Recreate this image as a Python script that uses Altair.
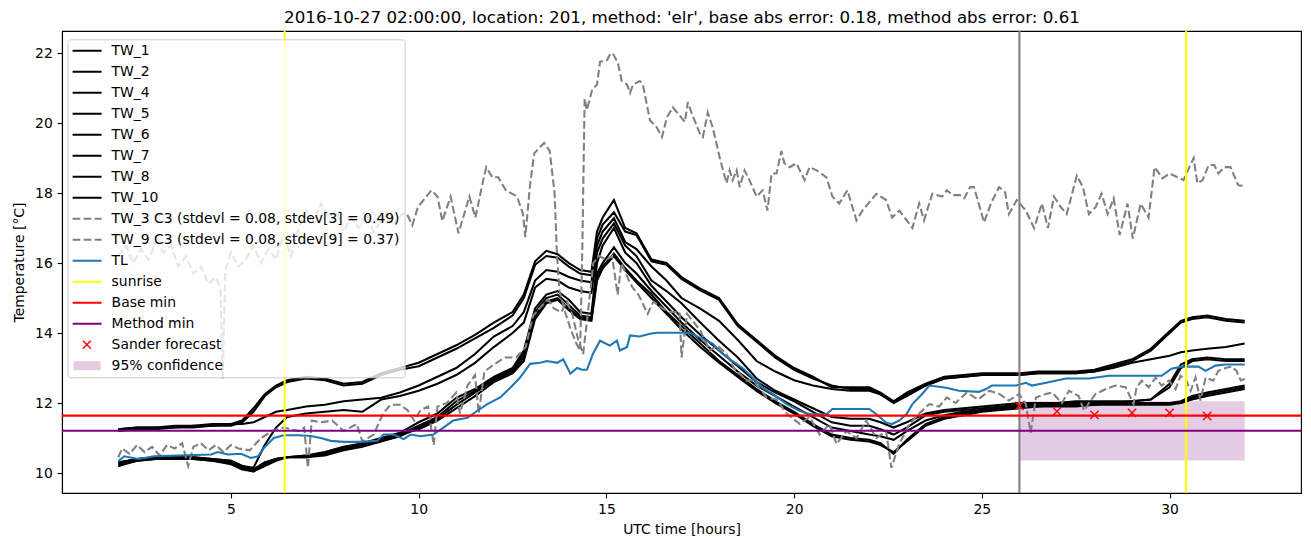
import altair as alt
import pandas as pd

TITLE = "2016-10-27 02:00:00, location: 201, method: 'elr', base abs error: 0.18, method abs error: 0.61"
TW3_LABEL = "TW_3 C3 (stdevl = 0.08, stdev[3] = 0.49)"
TW9_LABEL = "TW_9 C3 (stdevl = 0.08, stdev[9] = 0.37)"

# common time grid of the black TW lines (UTC hours)
XB = [2.0, 2.5, 3.0, 3.5, 4.0, 4.5, 5.0, 5.3, 5.6, 5.9,
      6.2, 6.5, 7.0, 7.5, 8.0, 8.5, 9.0, 9.5, 10.0, 10.5,
      11.0, 11.5, 12.0, 12.5, 12.8, 13.1, 13.4, 13.7, 14.0, 14.3,
      14.6, 14.75, 14.9, 15.2, 15.5, 15.8, 16.2, 16.6, 17.0, 17.5,
      18.0, 18.5, 19.0, 19.5, 20.0, 20.5, 21.0, 21.5, 22.0, 22.3,
      22.65, 23.0, 23.5, 24.0, 24.5, 25.0, 25.5, 26.0, 26.5, 27.0,
      27.5, 28.0, 28.5, 29.0, 29.5, 30.0, 30.3, 30.6, 31.0, 31.5,
      32.0]

TW_1 = [11.25, 11.3, 11.3, 11.35, 11.35, 11.4, 11.4, 11.5, 11.85, 12.25,
        12.5, 12.65, 12.75, 12.7, 12.55, 12.6, 12.85, 13.0, 13.15, 13.4,
        13.65, 13.95, 14.3, 14.6, 15.1, 16.05, 16.35, 16.25, 16.0, 15.8,
        15.75, 16.9, 17.3, 17.8, 17.0, 16.85, 16.1, 16.0, 15.6, 15.27,
        15.0, 14.25, 13.8, 13.35, 13.0, 12.75, 12.45, 12.45, 12.45, 12.3,
        12.05, 12.3, 12.55, 12.75, 12.8, 12.85, 12.85, 12.85, 12.9, 12.9,
        12.9, 12.95, 13.1, 13.25, 13.55, 14.05, 14.35, 14.45, 14.5, 14.4,
        14.35]
TW_2 = [11.2, 11.25, 11.25, 11.3, 11.3, 11.35, 11.35, 11.45, 11.75, 12.2,
        12.45, 12.6, 12.7, 12.65, 12.5, 12.55, 12.8, 12.95, 13.05, 13.3,
        13.55, 13.85, 14.15, 14.5, 15.0, 15.95, 16.2, 16.15, 15.9, 15.7,
        15.65, 16.7, 17.1, 17.45, 16.9, 16.8, 16.05, 15.95, 15.55, 15.22,
        14.95, 14.2, 13.75, 13.3, 12.95, 12.7, 12.5, 12.4, 12.4, 12.25,
        12.05, 12.25, 12.5, 12.7, 12.75, 12.8, 12.8, 12.8, 12.85, 12.85,
        12.85, 12.9, 13.05, 13.2, 13.5, 14.0, 14.3, 14.4, 14.45, 14.35,
        14.3]
TW_4 = [11.25, 11.3, 11.3, 11.3, 11.35, 11.35, 11.4, 11.4, 11.45, 11.6,
        11.75, 11.8, 11.9, 11.95, 12.05, 12.1, 12.15, 12.3, 12.5, 12.75,
        13.0, 13.4, 13.9, 14.2, 14.6, 15.5, 15.8, 15.75, 15.6, 15.5,
        15.45, 16.5, 16.9, 17.28, 16.6, 16.4, 15.9, 15.5, 15.0, 14.7,
        14.35, 13.8, 13.2, 12.9, 12.65, 12.5, 12.4, 12.35, 12.35, 12.25,
        12.0, 12.2, 12.5, 12.7, 12.75, 12.8, 12.8, 12.8, 12.85, 12.85,
        12.85, 12.9, 13.0, 13.15, 13.25, 13.35, 13.45, 13.5, 13.55, 13.6,
        13.7]
TW_5 = [10.3, 10.4, 10.45, 10.45, 10.45, 10.4, 10.35, 10.2, 10.15, 10.8,
        11.3, 11.6, 11.7, 11.75, 11.8, 11.75, 12.1, 12.2, 12.35, 12.55,
        12.8, 13.15, 13.6, 14.0, 14.3, 15.3, 15.55, 15.5, 15.3, 15.2,
        15.15, 16.3, 16.7, 17.13, 16.5, 16.2, 15.5, 15.2, 14.85, 14.3,
        13.78, 13.3, 12.7, 12.35, 12.1, 11.85, 11.6, 11.55, 11.55, 11.45,
        11.3, 11.45, 11.7, 11.8, 11.85, 11.9, 11.95, 12.0, 12.0, 12.0,
        12.05, 12.05, 12.05, 12.05, 12.1, 12.55, 13.1, 13.25, 13.3, 13.25,
        13.25]
TW_6 = [10.25, 10.35, 10.4, 10.4, 10.4, 10.4, 10.35, 10.2, 10.1, 10.3,
        10.4, 10.45, 10.5, 10.6, 10.75, 10.85, 11.0, 11.15, 11.45, 11.7,
        12.15, 12.4, 12.75, 13.0, 13.5, 14.7, 15.1, 15.2, 14.95, 14.6,
        14.55, 16.0, 16.5, 17.0, 16.3, 16.0, 15.35, 14.9, 14.45, 13.95,
        13.5, 13.05, 12.6, 12.3, 12.05, 11.75, 11.45, 11.35, 11.35, 11.25,
        11.1, 11.3, 11.65, 11.75, 11.8, 11.85, 11.9, 11.95, 11.95, 12.0,
        12.0, 12.0, 12.0, 12.05, 12.1, 12.45, 13.0, 13.2, 13.25, 13.2,
        13.2]
TW_7 = [10.2, 10.4, 10.4, 10.4, 10.4, 10.35, 10.3, 10.15, 10.05, 10.25,
        10.4, 10.45, 10.45, 10.55, 10.7, 10.8, 10.95, 11.1, 11.35, 11.6,
        12.05, 12.35, 12.7, 12.95, 13.4, 14.6, 15.0, 15.1, 14.8, 14.5,
        14.45, 15.7, 16.0, 16.45, 16.0, 15.7, 15.2, 14.75, 14.3, 13.8,
        13.35, 12.9, 12.5, 12.2, 11.9, 11.6, 11.3, 11.2, 11.1, 11.05,
        10.95, 11.2, 11.5, 11.65, 11.75, 11.8, 11.85, 11.9, 11.95, 11.95,
        11.95, 12.0, 12.0, 12.0, 12.0, 12.0, 12.05, 12.2, 12.3, 12.4,
        12.5]
TW_8 = [10.2, 10.35, 10.4, 10.4, 10.4, 10.35, 10.25, 10.1, 10.05, 10.2,
        10.35, 10.45, 10.45, 10.5, 10.65, 10.75, 10.9, 11.05, 11.3, 11.55,
        11.95, 12.3, 12.65, 12.9, 13.3, 14.5, 14.9, 15.0, 14.7, 14.45,
        14.4, 15.6, 15.9, 16.27, 15.85, 15.5, 15.1, 14.6, 14.2, 13.7,
        13.2, 12.8, 12.4, 12.05, 11.75, 11.4, 11.1, 11.0, 10.95, 10.85,
        10.55, 10.95, 11.4, 11.6, 11.7, 11.8, 11.85, 11.9, 11.9, 11.95,
        11.95, 11.95, 12.0, 12.0, 12.0, 12.0, 12.0, 12.15, 12.25, 12.35,
        12.45]
TW_10 = [10.3, 10.4, 10.45, 10.45, 10.45, 10.4, 10.3, 10.2, 10.1, 10.3,
         10.4, 10.45, 10.5, 10.55, 10.7, 10.8, 10.95, 11.1, 11.25, 11.5,
         11.85, 12.2, 12.6, 12.85, 13.2, 14.4, 14.85, 14.95, 14.65, 14.4,
         14.35, 15.5, 15.85, 16.2, 15.8, 15.45, 15.0, 14.55, 14.1, 13.6,
         13.15, 12.75, 12.35, 12.0, 11.7, 11.35, 11.05, 10.95, 10.9, 10.8,
         10.6, 10.9, 11.35, 11.55, 11.65, 11.75, 11.8, 11.85, 11.9, 11.9,
         11.9, 11.95, 11.95, 11.95, 11.95, 11.95, 12.0, 12.1, 12.2, 12.3,
         12.4]

TW3_X = [2.0, 2.2, 2.4, 2.6, 2.8, 3.0, 3.2, 3.4, 3.6, 3.8, 4.0, 4.2, 4.4, 4.6, 4.72, 4.78, 4.85,
         5.0, 5.2, 5.4, 5.6, 5.8, 6.0, 6.2, 6.4, 6.6, 6.8, 7.0, 7.2, 7.4, 7.6, 7.8, 8.0, 8.2,
         8.4, 8.6, 8.8, 9.0, 9.2, 9.4, 9.55, 9.68, 9.83, 9.98, 10.34, 10.5, 10.63, 10.85, 11.06,
         11.35, 11.51, 11.72, 11.8, 11.96, 12.12, 12.32, 12.62, 12.78, 12.84, 12.97, 13.08, 13.34,
         13.49, 13.62, 13.68, 13.75, 13.9, 14.05, 14.2, 14.3, 14.36, 14.42, 14.48, 14.62, 14.75,
         14.83, 15.02, 15.09, 15.17, 15.31, 15.41, 15.55, 15.63, 15.71, 15.89, 15.97, 16.16, 16.34,
         16.48, 16.61, 16.77, 16.9, 17.09, 17.17, 17.27, 17.49, 17.57, 17.7, 17.83, 18.02, 18.2,
         18.28, 18.36, 18.47, 18.55, 18.68, 18.81, 19.0, 19.16, 19.29, 19.4, 19.53, 19.66, 19.74,
         19.88, 20.06, 20.28, 20.41, 20.6, 20.86, 21.02, 21.2, 21.42, 21.66, 21.82, 22.19, 22.45,
         22.61, 22.8, 23.15, 23.33, 23.46, 23.68, 23.94, 24.07, 24.22, 24.42, 24.53, 24.69, 24.79,
         25.06, 25.24, 25.46, 25.62, 25.72, 25.93, 26.17, 26.39, 26.6, 26.76, 26.92, 27.1, 27.26,
         27.53, 27.69, 27.85, 28.03, 28.19, 28.35, 28.51, 28.67, 28.88, 29.02, 29.23, 29.44, 29.6,
         29.81, 30.0, 30.37, 30.64, 30.74, 30.88, 31.04, 31.19, 31.3, 31.46, 31.62, 31.83, 32.0]
TW3_Y = [16.2, 16.5, 16.0, 16.4, 16.1, 16.6, 16.3, 16.5, 15.9, 16.2, 15.7, 15.9, 15.4, 15.6, 15.3, 12.7, 15.8,
         16.3, 15.9, 16.1, 16.5, 16.0, 16.4, 16.1, 16.8, 16.2, 17.0, 17.5, 17.2, 17.7, 17.3, 17.5, 16.9, 17.3,
         17.0, 17.4, 16.9, 17.2, 17.5, 17.1, 17.4, 17.42, 17.08, 17.6, 18.08, 17.9, 17.2, 17.9, 16.85,
         17.9, 17.3, 18.37, 18.74, 18.45, 18.45, 18.08, 17.9, 17.4, 16.74, 18.28, 19.14, 19.43,
         19.2, 18.0, 16.3, 15.2, 14.6, 14.1, 13.7, 13.5, 16.5, 20.7, 20.37, 20.95, 21.1,
         21.75, 21.8, 21.95, 22.0, 21.7, 21.2, 21.1, 20.86, 21.1, 21.2, 21.1, 20.08, 19.88,
         19.6, 20.16, 20.45, 20.28, 20.03, 20.6, 20.28, 19.7, 19.6, 20.3, 19.88, 19.0, 18.28,
         18.65, 18.37, 18.65, 18.17, 18.65, 18.37, 17.9, 18.08, 17.5, 18.56, 18.56, 19.2, 18.85,
         18.74, 18.85, 18.37, 18.74, 18.65, 18.45, 17.9, 17.7, 18.08, 17.22, 17.5, 17.98, 17.8,
         17.3, 17.5, 17.0, 17.7, 17.22, 17.98, 17.9, 18.08, 17.94, 17.94, 17.85, 18.17, 18.17,
         17.16, 17.7, 18.17, 18.02, 17.4, 17.8, 17.5, 17.0, 17.7, 17.0, 17.9, 17.6, 17.4,
         18.5, 18.17, 17.4, 17.6, 17.98, 17.4, 17.85, 16.8, 17.7, 16.7, 17.7, 17.3, 18.74,
         18.42, 18.56, 18.37, 19.0, 18.28, 18.37, 18.8, 18.8, 18.56, 18.74, 18.74, 18.22, 18.2]

TW9_X = [2.0, 2.1, 2.3, 2.5, 2.7, 2.9, 3.1, 3.3, 3.5, 3.7, 3.86, 4.0, 4.2, 4.4, 4.6, 4.8, 5.0, 5.2,
         5.5, 5.8, 6.1, 6.4, 6.6, 6.8, 6.95, 7.05, 7.15, 7.4, 7.7, 8.0, 8.35, 8.5, 8.8, 9.05, 9.25,
         9.5, 9.7, 9.88, 10.05, 10.25, 10.4, 10.5, 10.75, 11.0, 11.1, 11.3, 11.5, 11.6, 11.75, 12.0,
         12.3, 12.6, 12.85, 13.05, 13.3, 13.45, 13.6, 13.8, 13.95, 14.1, 14.25, 14.38, 14.5, 14.65,
         14.8, 15.0, 15.15, 15.3, 15.4, 15.6, 15.7, 15.85, 16.1, 16.25, 16.5, 16.7, 16.95, 17.0,
         17.15, 17.5, 17.75, 17.95, 18.2, 18.4, 18.73, 18.9, 19.27, 19.53, 19.8, 20.15, 20.41,
         20.68, 20.94, 21.13, 21.39, 21.66, 21.92, 22.19, 22.45, 22.59, 22.8, 23.07, 23.33, 23.6,
         23.86, 24.07, 24.3, 24.6, 24.9, 25.2, 25.46, 25.72, 25.99, 26.17, 26.3, 26.44, 26.7, 26.87,
         27.13, 27.32, 27.58, 27.72, 27.85, 28.03, 28.3, 28.56, 28.83, 29.04, 29.12, 29.26, 29.44,
         29.63, 29.79, 29.98, 30.16, 30.29, 30.45, 30.56, 30.69, 30.82, 30.96, 31.16, 31.3, 31.49,
         31.65, 31.78, 31.9, 32.0]
TW9_Y = [10.45, 10.7, 10.55, 10.8, 10.6, 10.75, 10.5, 10.8, 10.7, 10.85, 10.2, 10.75, 10.85, 10.65, 10.8, 10.6, 10.8, 10.7,
         10.65, 11.0, 11.2, 11.3, 11.25, 11.2, 11.3, 10.15, 11.5, 11.45, 11.5, 11.2, 11.4, 10.9, 11.1, 11.7, 11.95,
         11.95, 11.8, 11.5, 11.8, 11.9, 10.8, 11.9, 12.0, 12.3, 11.7, 12.5, 12.8, 11.7, 12.9, 13.1,
         13.3, 13.3, 13.6, 14.5, 14.8, 14.95, 14.7, 14.6, 14.9, 14.5, 13.8, 13.4, 14.5, 16.0,
         16.2, 16.1, 16.2, 15.1, 16.0, 15.5, 15.3, 15.1, 14.55, 14.9, 14.7, 14.6, 14.6, 13.3,
         14.55, 14.07, 13.5, 13.65, 13.4, 13.0, 12.64, 12.65, 12.16, 12.1, 11.7, 11.4, 11.6,
         11.1, 11.4, 10.83, 11.2, 11.0, 11.5, 11.0, 11.2, 10.15, 10.83, 11.4, 11.7, 11.97,
         11.9, 12.16, 12.0, 12.3, 12.1, 12.35, 12.26, 12.07, 12.26, 11.97, 11.15, 12.16, 12.26, 12.3,
         12.0, 12.35, 12.2, 11.78, 12.0, 12.26, 12.4, 12.5, 12.45, 11.97, 12.45, 12.64, 12.45,
         12.73, 12.5, 12.64, 12.4, 12.78, 12.64, 12.35, 12.73, 12.07, 12.73, 12.64, 12.92, 13.0,
         13.05, 12.92, 12.64, 12.7]

TL_X = [2.0, 2.16, 2.53, 2.95, 4.47, 4.65, 4.92, 5.27, 5.53, 5.72, 5.88, 6.14, 6.41, 6.78, 7.13, 7.39,
        7.66, 8.0, 8.45, 8.9, 9.06, 9.33, 9.6, 9.78, 10.05, 10.39, 10.66, 10.92, 11.3, 11.56, 11.83,
        12.17, 12.44, 12.7, 12.97, 13.23, 13.42, 13.69, 13.85, 14.04, 14.22, 14.35, 14.48, 14.64,
        14.83, 15.09, 15.28, 15.36, 15.55, 15.63, 15.89, 16.16, 16.34, 17.22, 17.49, 17.83, 18.1,
        18.36, 18.63, 18.89, 19.16, 19.43, 19.8, 20.14, 20.41, 20.86, 21.02, 21.74, 22.0, 22.19,
        22.45, 22.61, 22.8, 22.99, 23.15, 23.41, 23.6, 24.05, 24.39, 24.92, 25.11, 25.27, 25.91,
        26.17, 26.33, 26.71, 27.24, 27.85, 28.38, 29.79, 30.05, 30.32, 30.77, 30.96, 31.22, 31.49,
        31.89, 32.0]
TL_Y = [10.34, 10.48, 10.4, 10.48, 10.53, 10.6, 10.53, 10.55, 10.43, 10.48, 10.72, 11.0, 11.08, 11.08, 11.06, 11.0,
        10.92, 10.89, 10.89, 10.92, 11.1, 11.1, 10.97, 11.1, 11.05, 11.1, 11.3, 11.5, 11.58, 11.78, 11.97,
        12.16, 12.44, 12.73, 13.12, 13.15, 13.2, 13.15, 13.25, 12.84, 13.0, 12.95, 12.95, 13.4,
        13.78, 13.64, 13.78, 13.5, 13.6, 13.93, 13.9, 13.98, 14.01, 14.01, 13.87, 13.7, 13.4,
        13.2, 13.0, 12.73, 12.44, 12.26, 11.97, 11.78, 11.68, 11.68, 11.83, 11.83, 11.83, 11.68,
        11.44, 11.4, 11.5, 11.68, 11.97, 12.26, 12.5, 12.44, 12.35, 12.32, 12.4, 12.5, 12.5,
        12.58, 12.5, 12.58, 12.7, 12.7, 12.78, 12.78, 12.98, 13.04, 13.04, 12.92, 13.07, 13.1,
        13.1, 13.1]

SUNRISE_X = [6.43, 30.44]
NOW_X = [26.0]
BASE_MIN = [11.64]
METHOD_MIN = [11.21]
SANDER_X = [26, 27, 28, 29, 30, 31]
SANDER_Y = [11.92, 11.76, 11.66, 11.72, 11.72, 11.63]
CONF_X = [26.0, 32.0]
CONF_Y = [10.36, 12.05]

BLACK = {"TW_1": TW_1, "TW_2": TW_2, "TW_4": TW_4, "TW_5": TW_5,
         "TW_6": TW_6, "TW_7": TW_7, "TW_8": TW_8, "TW_10": TW_10}
for k, v in BLACK.items():
    assert len(v) == len(XB), (k, len(v))
assert len(TW3_X) == len(TW3_Y), (len(TW3_X), len(TW3_Y))
assert len(TW9_X) == len(TW9_Y), (len(TW9_X), len(TW9_Y))
assert len(TL_X) == len(TL_Y), (len(TL_X), len(TL_Y))

ORDER = list(BLACK.keys()) + [TW3_LABEL, TW9_LABEL, "TL", "sunrise", "Base min",
                              "Method min", "Sander forecast", "95% confidence"]
COLORS = ["#000000"] * 8 + ["#808080", "#808080", "#1f77b4", "#ffff00", "#ff0000",
                            "#800080", "#ff0000", "#e5cce5"]

LW = 2.08           # 1.5 pt at 100 dpi
DASH = [7.7, 3.33]


def frame(xs, ys, name):
    return pd.DataFrame({"x": xs, "y": ys, "series": name})


black_df = pd.concat([frame(XB, v, k) for k, v in BLACK.items()], ignore_index=True)
dash_df = pd.concat([frame(TW3_X, TW3_Y, TW3_LABEL), frame(TW9_X, TW9_Y, TW9_LABEL)],
                    ignore_index=True)
tl_df = frame(TL_X, TL_Y, "TL")
sun_df = pd.DataFrame({"x": SUNRISE_X, "series": "sunrise"})
now_df = pd.DataFrame({"x": NOW_X})
hmin_df = pd.DataFrame({"y": BASE_MIN + METHOD_MIN, "series": ["Base min", "Method min"]})
pts_df = frame(SANDER_X, SANDER_Y, "Sander forecast")
conf_df = pd.DataFrame({"x": [CONF_X[0]], "x2": [CONF_X[1]], "y": [CONF_Y[0]],
                        "y2": [CONF_Y[1]], "series": ["95% confidence"]})

sym_shape = ("datum.value === 'Sander forecast' ? 'M0.78,-0.8L2.38,0.8M2.38,-0.8L0.78,0.8' : "
             "(datum.value === '95% confidence' ? 'M-1.08,-0.9L4.32,-0.9L4.32,0.9L-1.08,0.9Z' : "
             "'M-1.28,0L4.52,0')")
LEGEND_ENCODE = {"symbols": {"update": {
    "shape": {"signal": sym_shape},
    "size": {"value": 100},
    "strokeDash": {"signal": "indexof(datum.value, 'C3') >= 0 ? [7.7, 3.33] : [1, 0]"},
    "fill": {"scale": "color", "field": "value"},
    "fillOpacity": {"signal": "datum.value === '95% confidence' ? 1 : 0"},
    "stroke": {"scale": "color", "field": "value"},
    "strokeOpacity": {"signal": "datum.value === '95% confidence' ? 0 : 1"},
    "strokeWidth": {"signal": "datum.value === 'Sander forecast' ? 1.4 : 2.08"},
    "opacity": {"value": 1},
}}}

legend = alt.Legend(
    title=None, orient="none", legendX=5.6, legendY=8.3,
    padding=4.45, rowPadding=6.0, labelOffset=25.65,
    labelFont="DejaVu Sans", labelFontSize=13.9, labelColor="black", labelLimit=600,
    fillColor="rgba(255,255,255,0.8)", strokeColor="#cccccc", cornerRadius=2.8,
    symbolSize=100, symbolStrokeWidth=1.5,
)
color = alt.Color("series:N", scale=alt.Scale(domain=ORDER, range=COLORS), legend=legend)

xs = alt.Scale(domain=[0.5, 33.5], nice=False, zero=False)
ys = alt.Scale(domain=[9.43, 22.63], nice=False, zero=False)
xax = alt.Axis(values=[5, 10, 15, 20, 25, 30], title="UTC time [hours]", format="d")
# the figure title is carried by an otherwise empty top axis
top_ax = alt.Axis(orient="top", title=TITLE, ticks=False, labels=False, domain=False,
                  tickSize=0, titleFontSize=16.7, titlePadding=4.2)
yax = alt.Axis(values=[10, 12, 14, 16, 18, 20, 22], title="Temperature [°C]", format="d",
               titlePadding=8.5)
X_none = alt.X("x:Q", scale=xs, axis=None)
X_bot = alt.X("x:Q", scale=xs, axis=xax)
X_top = alt.X("x:Q", scale=xs, axis=top_ax)
Y = alt.Y("y:Q", scale=ys, axis=yax)

rect = alt.Chart(conf_df).mark_rect().encode(x=X_none, x2="x2:Q", y=Y, y2="y2:Q", color=color)
black = alt.Chart(black_df).mark_line(strokeWidth=LW).encode(x=X_bot, y=Y, color=color)
dashed = alt.Chart(dash_df).mark_line(strokeWidth=LW, strokeDash=DASH).encode(
    x=X_none, y=Y, color=color)
tl = alt.Chart(tl_df).mark_line(strokeWidth=LW).encode(x=X_top, y=Y, color=color)
now = alt.Chart(now_df).mark_rule(color="#808080", strokeWidth=LW).encode(x=X_none)
sun = alt.Chart(sun_df).mark_rule(strokeWidth=LW).encode(x=X_none, color=color)
hmin = alt.Chart(hmin_df).mark_rule(strokeWidth=LW).encode(y=Y, color=color)
pts = alt.Chart(pts_df).mark_point(shape="M-1,-1L1,1M1,-1L-1,1", size=69, filled=False,
                                   strokeWidth=1.4, opacity=1).encode(x=X_none, y=Y, color=color)

chart = alt.layer(rect, black, dashed, tl, now, sun, hmin, pts).resolve_axis(
    x="independent"
).properties(
    width=1239, height=462,
    autosize=alt.AutoSizeParams(type="none"),
    padding={"left": 54, "top": 23, "right": 2, "bottom": 46},
).configure_view(stroke="black", strokeWidth=1.1).configure_axis(
    domainColor="black", domainWidth=1.1, tickColor="black", tickWidth=1.1, tickSize=4.86,
    labelPadding=4.86, labelFont="DejaVu Sans", labelFontSize=13.9, labelColor="black",
    titleFont="DejaVu Sans", titleFontSize=13.9, titleFontWeight="normal", titleColor="black",
    grid=False, titlePadding=5.5,
)

# Vega-Lite supports a (schema-hidden) legend "encode" block; add it after validation.
SPEC = chart.to_dict()
for lyr in SPEC.get("layer", []):
    enc = lyr.get("encoding", {}).get("color")
    if isinstance(enc, dict) and isinstance(enc.get("legend"), dict):
        enc["legend"]["encode"] = LEGEND_ENCODE
object.__setattr__(chart, "to_dict", lambda *a, **k: SPEC)

chart.save("out.html", embed_options={"renderer": "svg", "actions": False})
